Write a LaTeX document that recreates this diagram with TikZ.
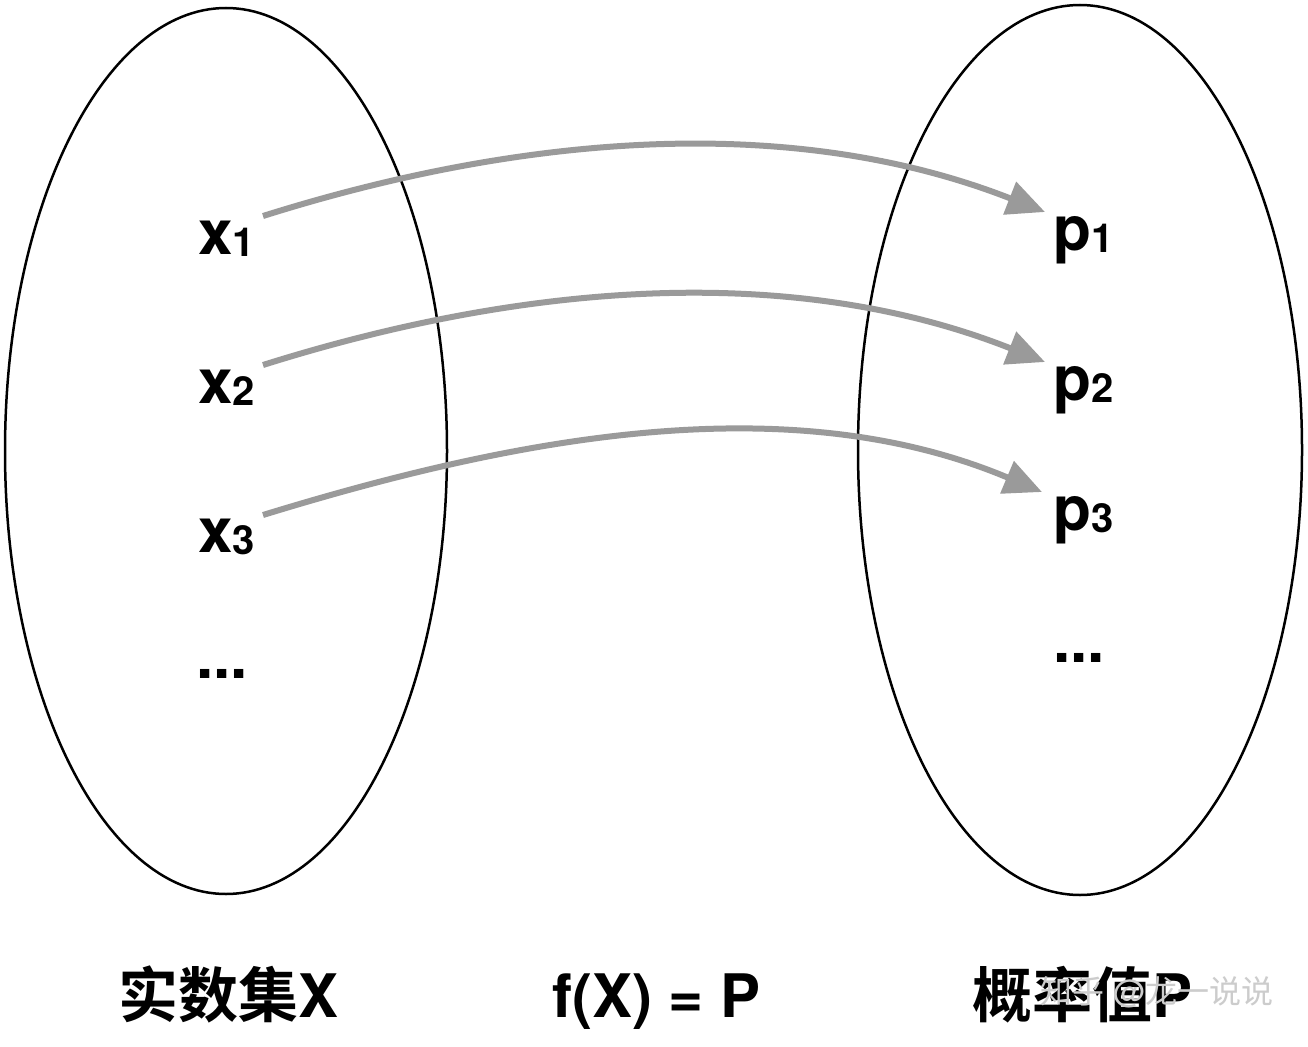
\documentclass[tikz,border=0pt]{standalone}
\usepackage{fontspec}
\setmainfont{TeX Gyre Heros}
\newfontfamily\cjk{Noto Sans CJK SC}[BoldFont={Noto Sans CJK SC Bold}]
\usetikzlibrary{arrows.meta}
\begin{document}
\begin{tikzpicture}[x=1pt,y=-1pt,
  setline/.style={line width=2.5pt,black},
  maplink/.style={line width=6pt,color=arrgray,-{Triangle[length=38pt,width=34pt]}},
  elem/.style={anchor=base west,inner sep=0pt,font=\bfseries\fontsize{62}{66}\selectfont},
  caption/.style={anchor=base west,inner sep=0pt,font=\bfseries\fontsize{60}{66}\selectfont}]
\definecolor{arrgray}{HTML}{9A9A9A}
\newcommand{\subnum}[1]{\raisebox{-2pt}{\bfseries\fontsize{40}{44}\selectfont #1}}
\useasboundingbox[fill=white] (0,0) rectangle (1308,1046);
% sets
\draw[setline] (226,451) ellipse [x radius=221, y radius=443];
\draw[setline] (1080,450) ellipse [x radius=222, y radius=445];
% elements
\node[elem] (x1) at (198,254) {x\subnum{1}};
\node[elem] (x2) at (198,403) {x\subnum{2}};
\node[elem] (x3) at (198,552) {x\subnum{3}};
\node[elem] (xd) at (196,678) {...};
\node[elem] (p1) at (1053,250) {p\subnum{1}};
\node[elem] (p2) at (1053,400) {p\subnum{2}};
\node[elem] (p3) at (1053,530) {p\subnum{3}};
\node[elem] (pd) at (1053,662) {...};
% connector ends
\coordinate (s1) at (263,216);
\coordinate (e1) at (1045,212);
\coordinate (s2) at (263,365);
\coordinate (e2) at (1045,362);
\coordinate (s3) at (263,515);
\coordinate (e3) at (1042,492);
\draw[maplink] (s1) .. controls (520,135) and (790,112) .. (e1);
\draw[maplink] (s2) .. controls (520,284) and (790,261) .. (e2);
\draw[maplink] (s3) .. controls (520,436) and (790,386) .. (e3);
% captions
\node[caption] (cx) at (118,1017) {{\cjk\bfseries 实数集}X};
\node[caption] (cf) at (552,1017) {f(X) = P};
\node[caption] (cp) at (972,1017) {{\cjk\bfseries 概率值}P};
% watermark
\node[anchor=base west,inner sep=0pt,text=gray!40,font=\fontsize{32}{34}\selectfont] (wm) at (1040,1003) {{\cjk 知乎} @{\cjk 龙一说说}};
\end{tikzpicture}
\end{document}
